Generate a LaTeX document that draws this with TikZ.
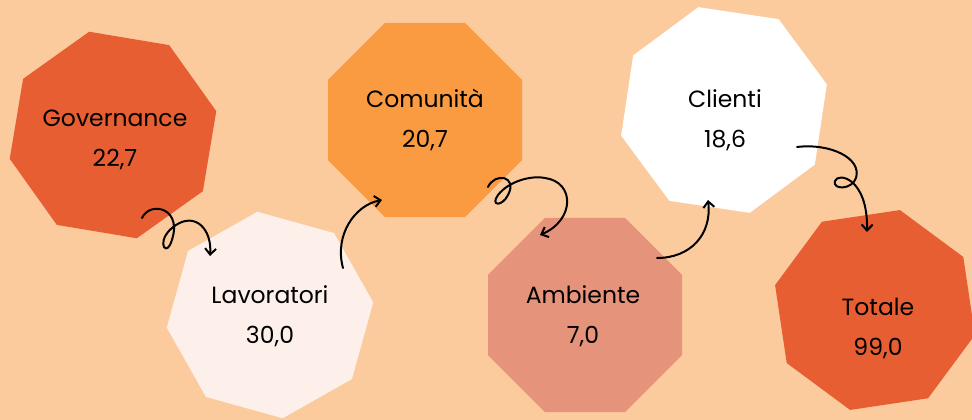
\documentclass[tikz,border=0pt]{standalone}
\usepackage{fontspec}
\setmainfont{Poppins}
\usetikzlibrary{shapes.geometric,arrows.meta}
\definecolor{bg}{HTML}{FBCB9E}
\definecolor{govc}{HTML}{E75E32}
\definecolor{lavc}{HTML}{FDF0EB}
\definecolor{comc}{HTML}{FA9B42}
\definecolor{ambc}{HTML}{E5937B}
\definecolor{clic}{HTML}{FFFFFF}
\definecolor{totc}{HTML}{E75E32}
\begin{document}
\begin{tikzpicture}[x=1pt,y=-1pt,
  oct/.style={regular polygon, regular polygon sides=8, minimum size=#1, inner sep=0pt, draw=none},
  lbl/.style={font=\fontsize{23.5}{40}\selectfont, align=center, text=black},
  curl/.style={line width=2pt, black, line cap=round, -{Straight Barb[length=6pt,width=11pt]}}]
\path[use as bounding box, fill=bg] (0,0) rectangle (972,420);

\node[oct=212, fill=govc, rotate=-9.5] (g) at (113,135) {};
\node[oct=208, fill=lavc, rotate=-15.5] (l) at (270,315) {};
\node[oct=210, fill=comc, rotate=0] (c) at (425,120) {};
\node[oct=210, fill=ambc, rotate=0] (a) at (585,315) {};
\node[oct=212, fill=clic, rotate=-8.5] (cl) at (724,110) {};
\node[oct=206, fill=totc, rotate=8.5] (t) at (875,310) {};

\node[lbl] (gt) at (115,140) {Governance\\22,7};
\node[lbl] (lt) at (270,316) {Lavoratori\\30,0};
\node[lbl] (ct) at (425,120) {Comunità\\20,7};
\node[lbl] (at) at (583,316) {Ambiente\\7,0};
\node[lbl] (clt) at (725,120) {Clienti\\18,6};
\node[lbl] (tt) at (878,328) {Totale\\99,0};

\coordinate (a1s) at (142,218);
\coordinate (a1e) at (210,256);
\coordinate (a2s) at (343,268);
\coordinate (a2e) at (382,200);
\coordinate (a3s) at (488,187);
\coordinate (a3e) at (540,235);
\coordinate (a4s) at (657,258);
\coordinate (a4e) at (708,200);
\coordinate (a5s) at (797,147);
\coordinate (a5e) at (867,232);

\draw[curl] (a1s) .. controls (150,200) and (186,208) .. (170,245) .. controls (164,256) and (156,238) .. (176,225) .. controls (196,212) and (212,230) .. (a1e);
\draw[curl] (a2s) .. controls (334,235) and (355,205) .. (a2e);
\draw[curl] (a3s) .. controls (495,172) and (518,176) .. (508,195) .. controls (502,207) and (490,206) .. (498,195) .. controls (508,182) and (530,175) .. (545,178) .. controls (575,182) and (575,220) .. (a3e);
\draw[curl] (a4s) .. controls (690,258) and (712,235) .. (a4e);
\draw[curl] (a5s) .. controls (830,143) and (862,158) .. (856,178) .. controls (852,190) and (832,190) .. (835,181) .. controls (838,172) and (868,178) .. (a5e);
\end{tikzpicture}
\end{document}
